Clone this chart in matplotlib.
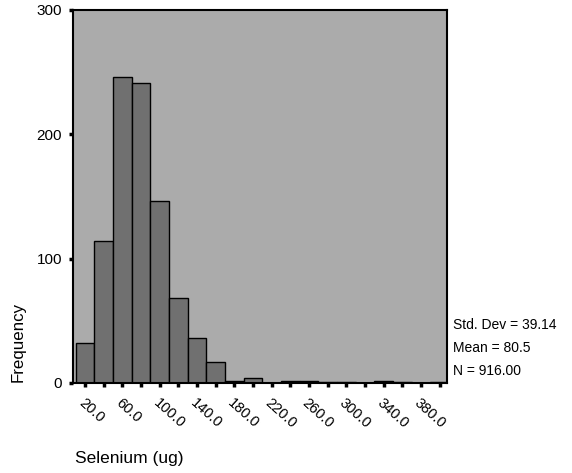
import matplotlib.pyplot as plt
from matplotlib.transforms import ScaledTranslation

plt.rcParams['font.family'] = ['Liberation Sans', 'DejaVu Sans']

# histogram of selenium intake, bins of width 20 centred on the ticks
bin_centers = [20, 40, 60, 80, 100, 120, 140, 160, 180, 200,
               220, 240, 260, 280, 300, 320, 340, 360, 380, 400]
counts = [32, 114, 246, 241, 146, 68, 36, 17, 2, 4,
          0, 2, 2, 1, 1, 0, 2, 1, 0, 1]
y_ticks = [0, 100, 200, 300]
stats = ["Std. Dev = 39.14", "Mean = 80.5", "N = 916.00"]

fig = plt.figure(figsize=(5.72, 4.73), dpi=100)
ax = fig.add_axes([0.1276, 0.1903, 0.654, 0.7886])
ax.set_facecolor("#ababab")

ax.bar(bin_centers, counts, width=20, color="#707070",
       edgecolor="black", linewidth=1.0)

ax.set_xlim(7, 408)
ax.set_ylim(0, 300)

# label every other tick
ax.set_xticks(bin_centers)
ax.set_xticklabels([f"{c}.0" if i % 2 == 0 else "" for i, c in enumerate(bin_centers)])
shift = ScaledTranslation(6 / 100, 0, fig.dpi_scale_trans)
for t in ax.get_xticklabels():
    t.set_rotation(-42)
    t.set_ha("left")
    t.set_va("top")
    t.set_rotation_mode("anchor")
    t.set_fontsize(10.5)
    t.set_transform(t.get_transform() + shift)
ax.set_yticks(y_ticks)
ax.tick_params(axis="both", direction="out", length=3, width=2.5, colors="black")
ax.tick_params(axis="x", pad=6)
ax.tick_params(axis="y", pad=5, labelsize=11)

for s in ax.spines.values():
    s.set_linewidth(1.5)
    s.set_color("black")

fig.text(18 / 572, 1 - 342 / 473, "Frequency", rotation=90,
         ha="center", va="center", fontsize=12.2)
fig.text(75 / 572, 1 - 458 / 473, "Selenium (ug)",
         ha="left", va="center", fontsize=12.5)

for i, s in enumerate(stats):
    fig.text(453 / 572, 1 - (325 + 23 * i) / 473, s,
             ha="left", va="center", fontsize=10)

fig.savefig("out.png", dpi=100, facecolor="white")
